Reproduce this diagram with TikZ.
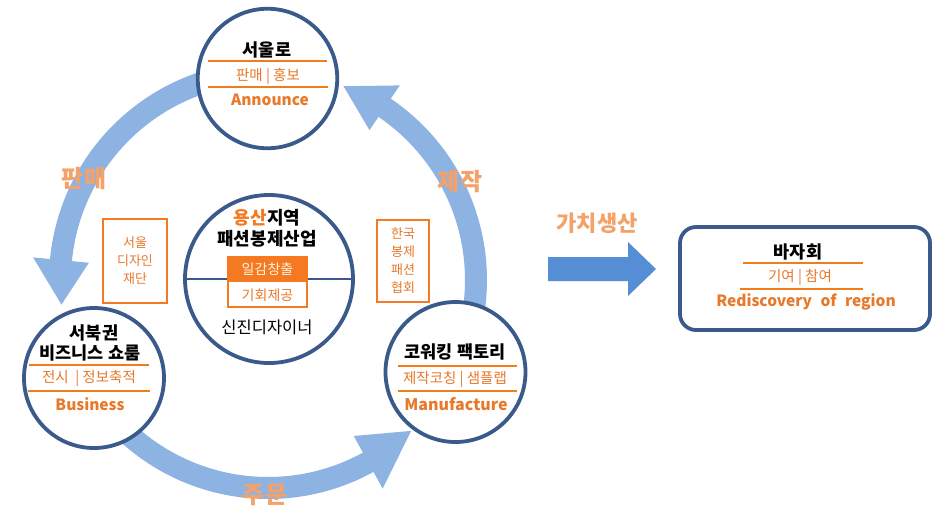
\documentclass[tikz,border=0pt]{standalone}
\usepackage{fontspec}
\setmainfont{Noto Sans CJK KR}
\usetikzlibrary{calc}
\definecolor{cb}{HTML}{3A5A8C}
\definecolor{bandc}{HTML}{8DB3E2}
\definecolor{bigc}{HTML}{558ED5}
\definecolor{oline}{HTML}{F07D1A}
\definecolor{otext}{HTML}{E8782A}
\definecolor{olab}{HTML}{F5A26A}
\definecolor{obox}{HTML}{F47920}
\begin{document}
\begin{tikzpicture}[x=1pt,y=-1pt,
  band/.style={draw=bandc, line width=22pt},
  circ/.style={circle, draw=cb, line width=3.8pt, fill=white, inner sep=0pt},
  title/.style={inner sep=0pt, font=\fontsize{17.5}{19}\selectfont\bfseries, text=black},
  sub/.style={inner sep=0pt, font=\fontsize{14.5}{16}\selectfont, text=otext},
  eng/.style={inner sep=0pt, font=\fontsize{15.5}{17}\selectfont\bfseries, text=otext},
  sep/.style={draw=oline, line width=2pt},
  biglab/.style={inner sep=0pt, font=\fontsize{24}{26}\selectfont\bfseries, text=olab},
  sidebox/.style={draw=obox, line width=2pt, fill=white, align=center, text=otext,
    font=\fontsize{13}{18}\selectfont, inner sep=0pt}
]
\useasboundingbox (0,0) rectangle (936,507);
\fill[white] (0,0) rectangle (936,507);
\def\Cx{268}\def\Cy{280}\def\R{208}
% ---- circular arrows ----
% left (sales)
\draw[band] plot[domain=105:175, samples=60, smooth] ({\Cx+\R*cos(\x)},{\Cy-\R*sin(\x)});
\fill[bandc] ({\Cx+(\R+28)*cos(174.5)},{\Cy-(\R+28)*sin(174.5)}) -- ({\Cx+(\R-28)*cos(174.5)},{\Cy-(\R-28)*sin(174.5)}) -- ({\Cx+\R*cos(186.8)},{\Cy-\R*sin(186.8)}) -- cycle;
% right (production)
\draw[band] plot[domain=-20:56.4, samples=60, smooth] ({\Cx+\R*cos(\x)},{\Cy-\R*sin(\x)});
\fill[bandc] ({\Cx+(\R+27)*cos(55.9)},{\Cy-(\R+27)*sin(55.9)}) -- ({\Cx+(\R-27)*cos(55.9)},{\Cy-(\R-27)*sin(55.9)}) -- ({\Cx+\R*cos(68.7)},{\Cy-\R*sin(68.7)}) -- cycle;
% bottom (order)
\draw[band] plot[domain=205:299.3, samples=60, smooth] ({\Cx+\R*cos(\x)},{\Cy-\R*sin(\x)});
\fill[bandc] ({\Cx+(\R+30)*cos(298.8)},{\Cy-(\R+30)*sin(298.8)}) -- ({\Cx+(\R-30)*cos(298.8)},{\Cy-(\R-30)*sin(298.8)}) -- ({\Cx+\R*cos(313.5)},{\Cy-\R*sin(313.5)}) -- cycle;
% ---- circles ----
\node[circ, minimum size=139.5pt] (top) at (267.5,78.5) {};
\node[circ, minimum size=168pt] (mid) at (269,279) {};
\node[circ, minimum size=140pt] (left) at (94,378) {};
\node[circ, minimum size=140pt] (right) at (455.5,372) {};
% ---- top circle ----
\node[title] (topt) at (267,50) {서울로};
\draw[sep] (208,61) -- (327,61);
\node[sub] (tops) at (268,76.5) {판매 | 홍보};
\draw[sep] (208,87) -- (328,87);
\node[eng] (tope) at (270,100) {Announce};
% ---- left circle ----
\node[title] (leftt) at (94,333) {서북권};
\node[title] (leftt2) at (90,353) {비즈니스 쇼룸};
\draw[sep] (29,365) -- (149,365);
\node[sub] (lefts) at (89,378) {전시 ~| 정보축적};
\draw[sep] (28,391) -- (150,391);
\node[eng] (lefte) at (90,404) {Business};
% ---- right circle ----
\node[title] (rightt) at (455,352) {코워킹 팩토리};
\draw[sep] (398,366) -- (517,366);
\node[sub] (rights) at (455,379) {제작코칭 | 샘플랩};
\draw[sep] (398,391) -- (517,391);
\node[eng, font=\fontsize{16}{18}\selectfont\bfseries] (righte) at (456,404) {Manufacture};
% ---- centre circle ----
\draw[draw=cb, line width=1.2pt] (mid.west) -- (mid.east);
\node[title, font=\fontsize{18}{20}\selectfont\bfseries] (m1) at (267,218) {{\color{obox}용산}지역};
\node[title, font=\fontsize{18}{20}\selectfont\bfseries] (m2) at (267,238.5) {패션봉제산업};
\node[draw=obox, line width=2.5pt, fill=white, minimum width=79pt, minimum height=50pt, inner sep=0pt] (mbox) at (267.5,282) {};
\fill[obox] (mbox.north west) rectangle ($(mbox.east)+(0,-0.5)$);
\node[inner sep=0pt, font=\fontsize{14}{15}\selectfont, text=white!92!orange] (m3) at (267.5,269.5) {일감창출};
\node[inner sep=0pt, font=\fontsize{14}{15}\selectfont, text=otext] (m4) at (267.5,295) {기회제공};
\node[inner sep=0pt, font=\fontsize{16.5}{18}\selectfont, text=black] (m5) at (267,327) {신진디자이너};
% ---- side boxes ----
\node[sidebox, minimum width=64pt, minimum height=84pt] (sdf) at (135,261) {서울\\디자인\\재단};
\node[sidebox, minimum width=52pt, minimum height=82pt] (kfa) at (403,261) {한국\\봉제\\패션\\협회};
% ---- arc labels ----
\node[biglab] (l1) at (84,178) {판매};
\node[biglab] (l2) at (460,182) {제작};
\node[biglab] (l3) at (265,495) {주문};
% ---- big arrow ----
\fill[bigc] (548,257) -- (628,257) -- (628,242) -- (656,269) -- (628,296) -- (628,281) -- (548,281) -- cycle;
\node[biglab, font=\fontsize{22}{24}\selectfont\bfseries] (val) at (597,223) {가치생산};
% ---- bazaar box ----
\node[draw=cb, line width=3.8pt, rounded corners=16pt, minimum width=250pt, minimum height=103pt, fill=white] (baz) at (805,278.5) {};
\node[title] (bt) at (798,252) {바자회};
\draw[sep] (743,263) -- (863,263);
\node[sub] (bs) at (800,277) {기여 | 참여};
\draw[sep] (740,289) -- (863,289);
\node[eng, font=\fontsize{15.5}{17}\selectfont\bfseries] (be) at (806,302) {Rediscovery\hspace{0.55em}of\hspace{0.55em}region};
\end{tikzpicture}
\end{document}
